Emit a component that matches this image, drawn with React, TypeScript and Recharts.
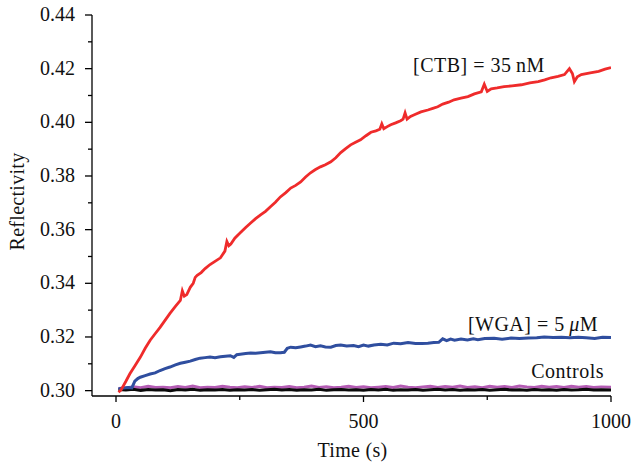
import React from "react";
import { LineChart, Line, XAxis, YAxis, ReferenceDot, Label } from "recharts";

// ---- data ----
const ctbTime = [5, 10, 20, 28, 38, 49, 59, 69, 79, 89, 99, 109, 120, 130, 134, 138, 143, 150, 156, 160, 164, 172, 180, 190, 200, 211, 220, 224, 228, 232, 240, 251, 262, 272, 282, 292, 302, 312, 322, 332, 343, 353, 363, 373, 383, 393, 403, 413, 423, 434, 444, 454, 464, 474, 484, 494, 505, 515, 525, 533, 537, 541, 548, 555, 565, 575, 580, 584, 588, 595, 605, 616, 630, 640, 650, 660, 672, 683, 697, 711, 724, 738, 744, 750, 758, 770, 784, 800, 819, 836, 853, 866, 879, 893, 906, 916, 922, 926, 932, 940, 958, 975, 988, 1000];
const ctbValue = [0.2994, 0.3002, 0.3035, 0.3063, 0.3092, 0.3124, 0.3158, 0.3188, 0.3212, 0.3236, 0.3262, 0.3288, 0.3314, 0.3336, 0.3372, 0.3352, 0.3358, 0.3385, 0.34, 0.3422, 0.343, 0.344, 0.3455, 0.347, 0.3482, 0.3495, 0.352, 0.3556, 0.354, 0.3546, 0.3568, 0.3588, 0.3608, 0.3625, 0.3641, 0.3655, 0.3668, 0.3685, 0.3702, 0.3722, 0.3738, 0.3755, 0.3765, 0.3778, 0.3796, 0.3812, 0.3824, 0.3834, 0.3842, 0.3853, 0.3868, 0.3887, 0.3902, 0.3916, 0.3926, 0.3935, 0.395, 0.3963, 0.3968, 0.3974, 0.3994, 0.3976, 0.3984, 0.3991, 0.3998, 0.4006, 0.4012, 0.4035, 0.4012, 0.4022, 0.403, 0.4039, 0.4046, 0.4052, 0.4058, 0.4068, 0.4075, 0.4084, 0.409, 0.4096, 0.4106, 0.4114, 0.4142, 0.4115, 0.4125, 0.4128, 0.4133, 0.4136, 0.414, 0.4147, 0.4152, 0.4158, 0.4166, 0.4171, 0.4178, 0.42, 0.4182, 0.4152, 0.417, 0.4178, 0.4184, 0.419, 0.4198, 0.4204];

const wgaTime = [5, 15, 25, 32, 38, 44, 49, 59, 69, 79, 89, 99, 109, 120, 130, 140, 150, 160, 170, 180, 190, 200, 211, 221, 231, 238, 244, 251, 262, 272, 282, 292, 302, 312, 322, 332, 340, 346, 353, 363, 373, 383, 393, 403, 413, 423, 434, 444, 454, 466, 480, 490, 500, 510, 521, 535, 548, 561, 575, 590, 605, 618, 630, 642, 652, 660, 668, 676, 684, 697, 710, 722, 731, 745, 764, 780, 798, 815, 833, 850, 865, 883, 900, 917, 934, 950, 967, 983, 1000];
const wgaValue = [0.3006, 0.301, 0.3012, 0.301, 0.3035, 0.3045, 0.305, 0.3056, 0.3062, 0.3066, 0.3075, 0.3082, 0.3088, 0.3096, 0.3102, 0.3106, 0.311, 0.3116, 0.3121, 0.3123, 0.3125, 0.3123, 0.3126, 0.3128, 0.313, 0.3124, 0.3134, 0.3136, 0.3138, 0.314, 0.3139, 0.3141, 0.3143, 0.3145, 0.3141, 0.3141, 0.3143, 0.3158, 0.3162, 0.316, 0.3163, 0.3166, 0.317, 0.3164, 0.3167, 0.3163, 0.3162, 0.3168, 0.317, 0.3166, 0.3168, 0.3164, 0.317, 0.3166, 0.317, 0.3173, 0.317, 0.3177, 0.3175, 0.3179, 0.3176, 0.3176, 0.3177, 0.3179, 0.318, 0.3193, 0.3186, 0.3192, 0.3188, 0.3192, 0.3189, 0.3193, 0.319, 0.3194, 0.3195, 0.3192, 0.3196, 0.3194, 0.3196, 0.3197, 0.32, 0.3198, 0.3199, 0.3197, 0.3199, 0.3197, 0.3194, 0.3199, 0.3198];

const controlTime = [5, 20, 35, 50, 65, 80, 95, 110, 125, 140, 155, 170, 185, 200, 215, 230, 245, 260, 275, 290, 305, 320, 335, 350, 365, 380, 395, 410, 425, 440, 455, 470, 485, 500, 515, 530, 545, 560, 575, 590, 605, 620, 635, 650, 665, 680, 695, 710, 725, 740, 755, 770, 785, 800, 815, 830, 845, 860, 875, 890, 905, 920, 935, 950, 965, 980, 1000];
const controlAValue = [0.3008, 0.301, 0.3014, 0.3011, 0.3016, 0.3012, 0.3013, 0.3011, 0.3015, 0.3012, 0.3017, 0.3011, 0.3013, 0.3012, 0.3016, 0.3013, 0.3011, 0.3014, 0.3012, 0.3016, 0.3011, 0.3013, 0.3012, 0.3015, 0.3011, 0.3013, 0.3017, 0.3012, 0.3014, 0.3011, 0.3013, 0.3016, 0.3012, 0.3014, 0.3011, 0.3013, 0.3015, 0.3012, 0.3017, 0.3013, 0.3011, 0.3014, 0.3016, 0.3012, 0.3015, 0.3013, 0.3017, 0.3012, 0.3014, 0.3011, 0.3016, 0.3013, 0.3015, 0.3012, 0.3017, 0.3014, 0.3012, 0.3016, 0.3013, 0.3015, 0.3012, 0.3016, 0.3013, 0.3015, 0.3012, 0.3014, 0.3013];
const controlBValue = [0.3004, 0.3002, 0.3005, 0.3001, 0.3004, 0.3002, 0.3003, 0.3, 0.3004, 0.3002, 0.3005, 0.3001, 0.3003, 0.3002, 0.3004, 0.3001, 0.3003, 0.3002, 0.3004, 0.3001, 0.3003, 0.3005, 0.3002, 0.3004, 0.3001, 0.3003, 0.3002, 0.3005, 0.3001, 0.3003, 0.3004, 0.3002, 0.3003, 0.3001, 0.3004, 0.3002, 0.3005, 0.3001, 0.3003, 0.3002, 0.3004, 0.3001, 0.3003, 0.3005, 0.3002, 0.3004, 0.3001, 0.3003, 0.3002, 0.3004, 0.3001, 0.3003, 0.3005, 0.3002, 0.3003, 0.3001, 0.3004, 0.3002, 0.3003, 0.3001, 0.3004, 0.3002, 0.3003, 0.3005, 0.3002, 0.3003, 0.3002];

const xTicks = [0, 250, 500, 750, 1000];
const xLabeled = [0, 500, 1000];
const yTicks = [0.3, 0.31, 0.32, 0.33, 0.34, 0.35, 0.36, 0.37, 0.38, 0.39, 0.4, 0.41, 0.42, 0.43, 0.44];
const yLabeled = [0.3, 0.32, 0.34, 0.36, 0.38, 0.4, 0.42, 0.44];

const xTitle = "Time (s)";
const yTitle = "Reflectivity";

const toPoints = (ts: number[], vs: number[]) =>
  ts.map((t, i) => ({ t, v: vs[Math.min(i, vs.length - 1)] }));

const ctbData = toPoints(ctbTime, ctbValue);
const wgaData = toPoints(wgaTime, wgaValue);
const ctrlAData = toPoints(controlTime, controlAValue);
const ctrlBData = toPoints(controlTime, controlBValue);

const FONT = "'Liberation Serif', 'Times New Roman', serif";
const FS = 20;

const isLabeledY = (v: number) => yLabeled.some((l) => Math.abs(l - v) < 1e-6);

const YTick = (props: any) => {
  const { x, y, payload } = props;
  const major = isLabeledY(payload.value);
  return (
    <g>
      <line x1={x - (major ? 7 : 4)} x2={x} y1={y} y2={y} stroke="#000" strokeWidth={1.3} />
      {major && (
        <text x={x - 17} y={y + 6} textAnchor="end" fontFamily={FONT} fontSize={FS} fill="#111">
          {payload.value.toFixed(2)}
        </text>
      )}
    </g>
  );
};

const XTick = (props: any) => {
  const { x, y, payload } = props;
  const major = xLabeled.includes(payload.value);
  return (
    <g>
      <line x1={x} x2={x} y1={y} y2={y + (major ? 6 : 4)} stroke="#000" strokeWidth={1.3} />
      {major && (
        <text x={x} y={y + 32} textAnchor="middle" fontFamily={FONT} fontSize={FS} fill="#111">
          {payload.value}
        </text>
      )}
    </g>
  );
};

const annot = (content: React.ReactNode, anchor: "start" | "end") => (props: any) => {
  const vb = props.viewBox || {};
  return (
    <text x={vb.x} y={vb.y} textAnchor={anchor} fontFamily={FONT} fontSize={FS} letterSpacing={0.5} fill="#111">
      {content}
    </text>
  );
};

export default function App() {
  return (
    <div style={{ position: "absolute", left: 0, top: 0, width: 631, height: 466, background: "#fff" }}>
      <LineChart width={631} height={466} margin={{ top: 15, right: 20, bottom: 20, left: 32 }}>
        <XAxis
          dataKey="t"
          type="number"
          domain={[-48.5, 1000]}
          allowDataOverflow
          ticks={xTicks}
          interval={0}
          tickSize={0}
          tickMargin={0}
          tickLine={false}
          tick={<XTick />}
          height={50}
          axisLine={{ stroke: "#000", strokeWidth: 1.3 }}
          label={
            <Label
              content={(p: any) => {
                const vb = p.viewBox || {};
                return (
                  <text x={vb.x + vb.width / 2 + 1} y={vb.y + 61} textAnchor="middle" fontFamily={FONT} fontSize={FS} letterSpacing={0.3} fill="#111">
                    {xTitle}
                  </text>
                );
              }}
            />
          }
        />
        <YAxis
          dataKey="v"
          type="number"
          domain={[0.298, 0.44]}
          allowDataOverflow
          ticks={yTicks}
          interval={0}
          tickSize={0}
          tickMargin={0}
          tickLine={false}
          tick={<YTick />}
          width={60}
          axisLine={{ stroke: "#000", strokeWidth: 1.3 }}
          label={
            <Label
              content={(p: any) => {
                const vb = p.viewBox || {};
                const cy = vb.y + vb.height / 2 - 4;
                return (
                  <text x={24} y={cy} transform={`rotate(-90 24 ${cy})`} textAnchor="middle" fontFamily={FONT} fontSize={FS} letterSpacing={0.3} fill="#111">
                    {yTitle}
                  </text>
                );
              }}
            />
          }
        />
        <Line data={ctrlAData} dataKey="v" type="linear" stroke="#b45cb4" strokeWidth={3} dot={false} isAnimationActive={false} />
        <Line data={ctrlBData} dataKey="v" type="linear" stroke="#0a0a0a" strokeWidth={3} dot={false} isAnimationActive={false} />
        <Line data={wgaData} dataKey="v" type="linear" stroke="#2f4e9f" strokeWidth={3} dot={false} isAnimationActive={false} />
        <Line data={ctbData} dataKey="v" type="linear" stroke="#ef2b2b" strokeWidth={2.8} dot={false} isAnimationActive={false} />
        <ReferenceDot x={600} y={0.4188} r={0} fill="none" stroke="none">
          <Label content={annot(<>[CTB] = 35{"\u2009"}nM</>, "start")} />
        </ReferenceDot>
        <ReferenceDot x={974} y={0.3222} r={0} fill="none" stroke="none">
          <Label content={annot(<>[WGA] = 5{"\u2009"}<tspan fontStyle="italic">μ</tspan>M</>, "end")} />
        </ReferenceDot>
        <ReferenceDot x={986} y={0.3048} r={0} fill="none" stroke="none">
          <Label content={annot(<>Controls</>, "end")} />
        </ReferenceDot>
      </LineChart>
    </div>
  );
}
